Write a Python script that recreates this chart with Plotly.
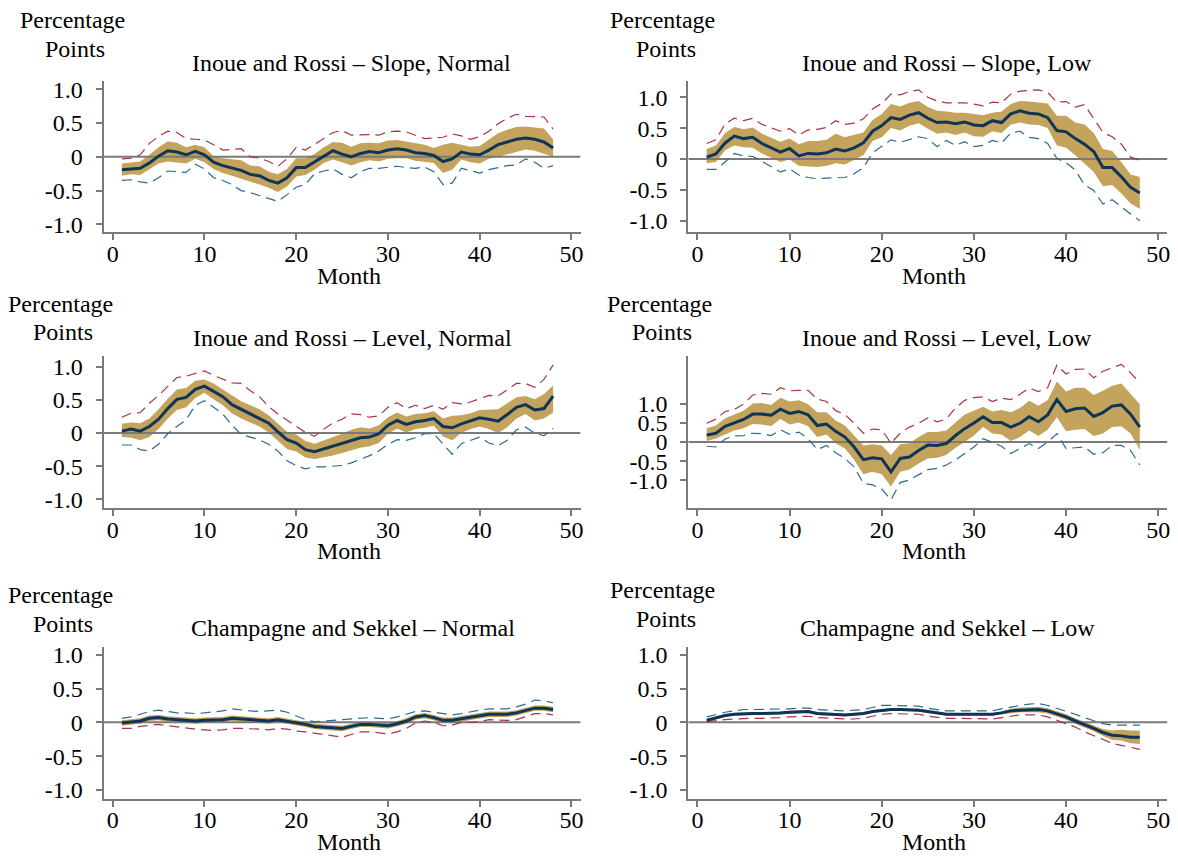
import plotly.graph_objects as go

# ---------------- data ----------------
MONTHS = list(range(1, 49))
X_TICKS = [0, 10, 20, 30, 40, 50]
Y_TICKS = [-1.0, -0.5, 0.0, 0.5, 1.0]
Y_TICK_LABELS = ["-1.0", "-0.5", "0", "0.5", "1.0"]

# Inoue and Rossi - Slope, Normal
sn_irf = [-0.19,-0.18,-0.17,-0.09,0.01,0.09,0.07,0.03,0.08,0.03,-0.08,-0.13,-0.16,-0.20,-0.26,-0.28,-0.35,-0.39,-0.31,-0.16,-0.16,-0.08,0.01,0.09,0.04,0.00,0.05,0.08,0.06,0.10,0.12,0.10,0.06,0.05,0.02,-0.07,-0.03,0.07,0.04,0.03,0.10,0.18,0.22,0.26,0.28,0.26,0.22,0.13]
sn_hi = [-0.10,-0.09,-0.07,0.03,0.14,0.23,0.21,0.14,0.18,0.14,0.01,-0.02,-0.03,-0.05,-0.13,-0.14,-0.22,-0.26,-0.18,-0.02,-0.02,0.04,0.14,0.22,0.21,0.15,0.20,0.21,0.20,0.24,0.25,0.23,0.20,0.18,0.13,0.18,0.21,0.18,0.15,0.16,0.25,0.35,0.40,0.44,0.45,0.43,0.42,0.26]
sn_lo = [-0.28,-0.26,-0.27,-0.19,-0.10,-0.07,-0.08,-0.10,-0.03,-0.08,-0.18,-0.24,-0.28,-0.32,-0.36,-0.41,-0.46,-0.52,-0.44,-0.29,-0.27,-0.19,-0.09,-0.04,-0.08,-0.13,-0.08,-0.05,-0.07,-0.03,-0.02,-0.02,-0.06,-0.07,-0.09,-0.24,-0.19,-0.04,-0.08,-0.10,-0.03,0.00,0.04,0.08,0.11,0.09,0.04,0.00]
sn_red = [-0.03,-0.02,0.03,0.20,0.30,0.38,0.36,0.27,0.26,0.25,0.18,0.10,0.11,0.12,0.00,-0.02,-0.07,-0.14,-0.03,0.14,0.10,0.18,0.27,0.36,0.39,0.32,0.33,0.33,0.32,0.37,0.38,0.37,0.32,0.27,0.28,0.29,0.34,0.31,0.26,0.30,0.38,0.49,0.57,0.63,0.60,0.59,0.59,0.41]
sn_blue = [-0.35,-0.34,-0.37,-0.39,-0.31,-0.21,-0.22,-0.23,-0.11,-0.18,-0.31,-0.35,-0.41,-0.50,-0.53,-0.57,-0.62,-0.66,-0.56,-0.45,-0.41,-0.25,-0.21,-0.18,-0.26,-0.31,-0.22,-0.17,-0.17,-0.15,-0.14,-0.16,-0.17,-0.15,-0.22,-0.41,-0.39,-0.17,-0.20,-0.24,-0.19,-0.16,-0.13,-0.12,-0.03,-0.08,-0.17,-0.13]

# Inoue and Rossi - Slope, Low
sl_irf = [0.03,0.08,0.26,0.37,0.33,0.35,0.25,0.18,0.11,0.17,0.05,0.09,0.08,0.10,0.16,0.13,0.18,0.26,0.45,0.54,0.67,0.64,0.71,0.75,0.66,0.59,0.60,0.57,0.60,0.55,0.54,0.62,0.59,0.73,0.78,0.74,0.73,0.67,0.46,0.44,0.33,0.24,0.12,-0.14,-0.14,-0.29,-0.46,-0.55]
sl_hi = [0.16,0.22,0.42,0.52,0.48,0.51,0.41,0.34,0.28,0.33,0.24,0.29,0.29,0.31,0.41,0.35,0.39,0.43,0.63,0.73,0.89,0.85,0.91,0.94,0.84,0.78,0.77,0.75,0.75,0.73,0.71,0.75,0.77,0.89,0.94,0.93,0.92,0.90,0.70,0.70,0.59,0.56,0.42,0.16,0.13,-0.05,-0.25,-0.29]
sl_lo = [-0.07,-0.05,0.14,0.22,0.19,0.18,0.09,0.02,-0.05,-0.01,-0.11,-0.12,-0.13,-0.11,-0.07,-0.09,-0.02,0.06,0.29,0.35,0.50,0.46,0.54,0.58,0.49,0.41,0.43,0.39,0.43,0.37,0.36,0.45,0.42,0.56,0.59,0.56,0.55,0.50,0.22,0.18,0.06,-0.07,-0.21,-0.44,-0.42,-0.56,-0.72,-0.81]
sl_red = [0.25,0.31,0.57,0.66,0.62,0.66,0.56,0.50,0.45,0.49,0.39,0.47,0.48,0.51,0.62,0.56,0.58,0.65,0.81,0.90,1.05,1.04,1.09,1.12,1.00,0.94,0.91,0.91,0.91,0.89,0.86,0.92,0.91,1.05,1.10,1.11,1.12,1.08,0.92,0.93,0.84,0.88,0.65,0.43,0.36,0.24,0.03,-0.02]
sl_blue = [-0.17,-0.17,-0.05,0.09,0.05,0.04,-0.04,-0.13,-0.21,-0.16,-0.26,-0.30,-0.32,-0.31,-0.30,-0.30,-0.24,-0.14,0.10,0.20,0.31,0.27,0.31,0.36,0.33,0.20,0.30,0.22,0.28,0.20,0.22,0.30,0.26,0.42,0.45,0.35,0.33,0.25,0.01,-0.06,-0.18,-0.42,-0.51,-0.73,-0.66,-0.78,-0.89,-1.00]

# Inoue and Rossi - Level, Normal
ln_irf = [0.03,0.06,0.03,0.10,0.21,0.37,0.51,0.54,0.66,0.71,0.63,0.55,0.43,0.36,0.30,0.23,0.15,0.02,-0.10,-0.15,-0.25,-0.28,-0.24,-0.20,-0.16,-0.11,-0.07,-0.06,-0.01,0.12,0.19,0.13,0.17,0.19,0.22,0.10,0.08,0.14,0.18,0.23,0.21,0.18,0.28,0.39,0.43,0.35,0.37,0.56]
ln_hi = [0.14,0.16,0.15,0.22,0.36,0.52,0.66,0.68,0.79,0.81,0.75,0.66,0.56,0.48,0.42,0.36,0.27,0.14,0.02,-0.02,-0.12,-0.16,-0.11,-0.07,-0.01,0.05,0.09,0.07,0.12,0.24,0.31,0.25,0.29,0.30,0.33,0.22,0.26,0.27,0.30,0.35,0.36,0.36,0.45,0.54,0.56,0.51,0.59,0.72]
ln_lo = [-0.06,-0.07,-0.11,-0.06,0.06,0.22,0.35,0.39,0.53,0.61,0.51,0.42,0.30,0.22,0.16,0.10,0.01,-0.11,-0.24,-0.28,-0.37,-0.39,-0.37,-0.34,-0.30,-0.26,-0.22,-0.20,-0.15,-0.01,0.07,0.01,0.06,0.08,0.11,-0.05,-0.11,0.00,0.06,0.10,0.06,0.00,0.09,0.22,0.29,0.19,0.22,0.31]
ln_red = [0.24,0.30,0.31,0.45,0.57,0.71,0.84,0.86,0.90,0.94,0.87,0.81,0.76,0.75,0.64,0.55,0.40,0.29,0.20,0.10,0.01,-0.05,0.06,0.15,0.21,0.29,0.28,0.24,0.26,0.39,0.46,0.37,0.42,0.37,0.42,0.36,0.46,0.44,0.47,0.52,0.57,0.56,0.66,0.75,0.75,0.69,0.81,1.03]
ln_blue = [-0.18,-0.18,-0.25,-0.27,-0.17,-0.01,0.10,0.20,0.42,0.49,0.39,0.29,0.12,-0.02,-0.06,-0.10,-0.17,-0.27,-0.42,-0.49,-0.54,-0.51,-0.51,-0.50,-0.49,-0.45,-0.40,-0.34,-0.27,-0.17,-0.10,-0.11,-0.07,-0.01,-0.01,-0.16,-0.32,-0.16,-0.11,-0.06,-0.15,-0.19,-0.11,0.05,0.09,0.00,-0.04,0.07]

# Inoue and Rossi - Level, Low
ll_irf = [0.18,0.23,0.41,0.50,0.59,0.73,0.73,0.70,0.86,0.75,0.80,0.71,0.43,0.47,0.28,0.13,-0.13,-0.46,-0.41,-0.44,-0.78,-0.43,-0.39,-0.22,-0.08,-0.09,-0.04,0.17,0.35,0.50,0.66,0.51,0.51,0.39,0.49,0.66,0.53,0.71,1.11,0.80,0.87,0.89,0.67,0.77,0.94,0.97,0.73,0.39]
ll_hi = [0.36,0.43,0.62,0.71,0.82,1.01,1.02,0.97,1.16,1.06,1.09,0.99,0.78,0.78,0.56,0.43,0.17,-0.09,-0.06,-0.09,-0.34,-0.06,-0.03,0.13,0.26,0.26,0.30,0.52,0.72,0.82,0.92,0.80,0.84,0.78,0.89,1.08,0.95,1.09,1.58,1.32,1.42,1.42,1.23,1.34,1.47,1.53,1.25,0.99]
ll_lo = [0.03,0.09,0.20,0.30,0.36,0.47,0.46,0.42,0.60,0.46,0.51,0.41,0.13,0.20,-0.03,-0.17,-0.46,-0.84,-0.78,-0.84,-1.16,-0.78,-0.72,-0.56,-0.43,-0.41,-0.34,-0.15,0.00,0.17,0.39,0.22,0.20,0.03,0.13,0.30,0.16,0.32,0.65,0.28,0.32,0.34,0.16,0.22,0.39,0.41,0.22,-0.20]
ll_red = [0.49,0.60,0.80,0.85,0.99,1.23,1.27,1.25,1.42,1.34,1.35,1.35,1.12,1.06,0.82,0.72,0.49,0.23,0.34,0.32,-0.03,0.23,0.39,0.49,0.63,0.53,0.60,0.89,1.09,1.16,1.18,1.06,1.15,1.11,1.25,1.41,1.32,1.42,2.01,1.78,1.90,1.91,1.68,1.85,1.94,2.03,1.81,1.55]
ll_blue = [-0.11,-0.13,0.08,0.16,0.17,0.23,0.22,0.17,0.32,0.20,0.26,0.09,-0.20,-0.09,-0.28,-0.43,-0.65,-1.08,-1.12,-1.23,-1.51,-1.06,-0.99,-0.86,-0.72,-0.69,-0.60,-0.47,-0.30,-0.13,0.09,0.00,-0.11,-0.30,-0.17,-0.04,-0.17,0.00,0.22,-0.17,-0.15,-0.13,-0.32,-0.28,-0.09,-0.09,-0.22,-0.60]

# Champagne and Sekkel - Normal
cn_irf = [-0.01,0.00,0.02,0.06,0.07,0.05,0.04,0.03,0.02,0.03,0.03,0.04,0.06,0.05,0.04,0.03,0.02,0.04,0.02,-0.01,-0.03,-0.06,-0.07,-0.07,-0.09,-0.06,-0.03,-0.03,-0.04,-0.05,-0.02,0.02,0.08,0.10,0.07,0.03,0.03,0.05,0.07,0.09,0.12,0.12,0.12,0.14,0.17,0.21,0.21,0.19]
cn_hi = [0.03,0.04,0.06,0.10,0.11,0.09,0.08,0.07,0.06,0.07,0.07,0.08,0.10,0.09,0.08,0.07,0.06,0.08,0.06,0.03,0.01,-0.02,-0.03,-0.03,-0.05,-0.02,0.01,0.01,0.00,-0.01,0.02,0.06,0.12,0.14,0.11,0.07,0.07,0.09,0.11,0.13,0.16,0.16,0.16,0.18,0.21,0.25,0.25,0.23]
cn_lo = [-0.05,-0.04,-0.02,0.02,0.03,0.01,0.00,-0.01,-0.02,-0.01,-0.01,0.00,0.02,0.01,0.00,-0.01,-0.02,0.00,-0.02,-0.05,-0.07,-0.10,-0.11,-0.11,-0.13,-0.10,-0.07,-0.07,-0.08,-0.09,-0.06,-0.02,0.04,0.06,0.03,-0.01,-0.01,0.01,0.03,0.05,0.08,0.08,0.08,0.10,0.13,0.17,0.17,0.15]
cn_red = [-0.09,-0.09,-0.06,-0.04,-0.03,-0.05,-0.07,-0.08,-0.10,-0.11,-0.12,-0.11,-0.09,-0.09,-0.09,-0.10,-0.11,-0.09,-0.10,-0.13,-0.14,-0.16,-0.18,-0.20,-0.22,-0.18,-0.14,-0.14,-0.16,-0.17,-0.14,-0.09,-0.01,0.02,0.00,-0.05,-0.04,0.00,0.00,0.01,0.04,0.03,0.03,0.04,0.08,0.13,0.13,0.11]
cn_blue = [0.06,0.08,0.12,0.16,0.18,0.16,0.14,0.14,0.13,0.14,0.15,0.17,0.20,0.18,0.17,0.16,0.17,0.18,0.15,0.09,0.04,0.01,0.02,0.03,0.04,0.05,0.07,0.07,0.06,0.05,0.08,0.12,0.16,0.17,0.15,0.12,0.11,0.13,0.16,0.18,0.20,0.20,0.20,0.23,0.27,0.33,0.32,0.29]

# Champagne and Sekkel - Low
cl_irf = [0.03,0.07,0.10,0.12,0.13,0.13,0.13,0.13,0.14,0.15,0.16,0.16,0.13,0.12,0.12,0.11,0.12,0.13,0.16,0.18,0.19,0.19,0.19,0.18,0.16,0.14,0.12,0.12,0.12,0.12,0.12,0.12,0.14,0.17,0.18,0.19,0.19,0.17,0.13,0.08,0.02,-0.03,-0.09,-0.15,-0.19,-0.20,-0.22,-0.22]
cl_hi = [0.05,0.09,0.12,0.14,0.15,0.15,0.15,0.15,0.16,0.17,0.18,0.18,0.15,0.14,0.14,0.13,0.14,0.15,0.18,0.20,0.21,0.21,0.21,0.20,0.18,0.16,0.14,0.14,0.14,0.14,0.14,0.14,0.16,0.20,0.22,0.23,0.23,0.21,0.17,0.12,0.06,0.01,-0.05,-0.10,-0.12,-0.11,-0.12,-0.12]
cl_lo = [0.01,0.05,0.08,0.10,0.11,0.11,0.11,0.11,0.12,0.13,0.14,0.14,0.11,0.10,0.10,0.09,0.10,0.11,0.14,0.16,0.17,0.17,0.17,0.16,0.14,0.12,0.10,0.10,0.10,0.10,0.10,0.10,0.12,0.14,0.15,0.15,0.15,0.13,0.09,0.04,-0.02,-0.07,-0.13,-0.20,-0.26,-0.27,-0.31,-0.32]
cl_red = [0.01,0.03,0.04,0.05,0.06,0.06,0.06,0.06,0.07,0.08,0.09,0.09,0.07,0.06,0.05,0.05,0.05,0.06,0.09,0.12,0.13,0.13,0.13,0.12,0.09,0.07,0.06,0.06,0.06,0.06,0.05,0.05,0.07,0.09,0.11,0.11,0.11,0.08,0.03,-0.01,-0.07,-0.14,-0.20,-0.26,-0.31,-0.34,-0.37,-0.40]
cl_blue = [0.08,0.12,0.15,0.17,0.19,0.19,0.19,0.19,0.20,0.20,0.21,0.21,0.19,0.18,0.17,0.17,0.18,0.19,0.22,0.25,0.25,0.25,0.25,0.24,0.21,0.19,0.17,0.17,0.17,0.17,0.17,0.17,0.20,0.23,0.25,0.27,0.28,0.25,0.21,0.17,0.12,0.07,0.02,-0.02,-0.04,-0.04,-0.05,-0.04]

# ---------------- style / layout ----------------
W, H = 1178, 864
OFF = 8  # page body margin of the written html
GOLD = "#c4a35d"
NAVY = "#0e3558"
RED = "#a8344b"
BLUE = "#2c6994"
GREY = "#7a7a7a"
FONT = "Liberation Serif"
FS = 24
X_RANGE = [-1, 51]

COL_X = [(103.75, 582.1), (690.0, 1170.4)]
ROW_Y = [(77, 230), (355, 509), (649.3, 802.7)]

panels = [
    dict(title="Inoue and Rossi – Slope, Normal", irf=sn_irf, hi=sn_hi, lo=sn_lo, red=sn_red, blue=sn_blue,
         col=0, row=0, yr=[-1.12, 1.12], pp=(72.3, 75.3, 18), tt=(352.8, 62), mo=(349.8, 277)),
    dict(title="Inoue and Rossi – Slope, Low", irf=sl_irf, hi=sl_hi, lo=sl_lo, red=sl_red, blue=sl_blue,
         col=1, row=0, yr=[-1.19, 1.26], pp=(664.5, 667.7, 18), tt=(949.0, 62), mo=(936.4, 277)),
    dict(title="Inoue and Rossi – Level, Normal", irf=ln_irf, hi=ln_hi, lo=ln_lo, red=ln_red, blue=ln_blue,
         col=0, row=1, yr=[-1.135, 1.165], pp=(60.6, 63.6, 305), tt=(353.3, 340), mo=(349.8, 555)),
    dict(title="Inoue and Rossi – Level, Low", irf=ll_irf, hi=ll_hi, lo=ll_lo, red=ll_red, blue=ll_blue,
         col=1, row=1, yr=[-1.73, 2.25], pp=(660.8, 663.8, 305), tt=(949.6, 340), mo=(936.4, 555)),
    dict(title="Champagne and Sekkel – Normal", irf=cn_irf, hi=cn_hi, lo=cn_lo, red=cn_red, blue=cn_blue,
         col=0, row=2, yr=[-1.127, 1.117], pp=(60.6, 63.6, 600), tt=(353.9, 633), mo=(349.8, 850)),
    dict(title="Champagne and Sekkel – Low", irf=cl_irf, hi=cl_hi, lo=cl_lo, red=cl_red, blue=cl_blue,
         col=1, row=2, yr=[-1.127, 1.117], pp=(664.5, 667.7, 595), tt=(950.3, 633), mo=(936.4, 850)),
]

fig = go.Figure()
annotations = []
layout_axes = {}

def px2paper(x, y):
    return (x - OFF) / W, 1 - (y - OFF) / H

TXT_DY = -3  # visual centre of glyphs vs text box centre

for i, p in enumerate(panels, start=1):
    xa = "x" if i == 1 else f"x{i}"
    ya = "y" if i == 1 else f"y{i}"
    common = dict(xaxis=xa, yaxis=ya, showlegend=False, hoverinfo="skip")
    fig.add_trace(go.Scatter(x=MONTHS, y=p["lo"], mode="lines", line=dict(width=0, color=GOLD), **common))
    fig.add_trace(go.Scatter(x=MONTHS, y=p["hi"], mode="lines", line=dict(width=0, color=GOLD),
                             fill="tonexty", fillcolor=GOLD, **common))
    fig.add_trace(go.Scatter(x=X_RANGE, y=[0, 0], mode="lines", line=dict(width=2, color=GREY), **common))
    fig.add_trace(go.Scatter(x=MONTHS, y=p["red"], mode="lines",
                             line=dict(width=1.2, color=RED, dash="10px,6px"), **common))
    fig.add_trace(go.Scatter(x=MONTHS, y=p["blue"], mode="lines",
                             line=dict(width=1.2, color=BLUE, dash="10px,6px"), **common))
    fig.add_trace(go.Scatter(x=MONTHS, y=p["irf"], mode="lines",
                             line=dict(width=3, color=NAVY), **common))

    x0, x1 = COL_X[p["col"]]
    top, bot = ROW_Y[p["row"]]
    dx0, dy_top = px2paper(x0, top)
    dx1, dy_bot = px2paper(x1, bot)
    xkey = "xaxis" if i == 1 else f"xaxis{i}"
    ykey = "yaxis" if i == 1 else f"yaxis{i}"
    axis_style = dict(showline=True, linecolor=GREY, linewidth=2, ticks="outside", ticklen=6,
                      tickwidth=1.5, tickcolor=GREY, showgrid=False, zeroline=False,
                      tickfont=dict(family=FONT, size=FS, color="black"), fixedrange=True)
    layout_axes[xkey] = dict(domain=[dx0, dx1], range=X_RANGE, anchor=ya,
                             tickvals=X_TICKS, ticklabelstandoff=-7, **axis_style)
    layout_axes[ykey] = dict(domain=[dy_bot, dy_top], range=p["yr"], anchor=xa,
                             tickvals=Y_TICKS, ticktext=Y_TICK_LABELS, ticklabelstandoff=8, **axis_style)

    for (tx, ty), txt in [(p["tt"], p["title"]), (p["mo"], "Month")]:
        ax_, ay_ = px2paper(tx, ty + TXT_DY)
        annotations.append(dict(text=txt, x=ax_, y=ay_, xref="paper", yref="paper", showarrow=False,
                                xanchor="center", yanchor="middle",
                                font=dict(family=FONT, size=FS, color="black")))
    px_a, px_b, py = p["pp"]
    for (tx, ty), txt in [((px_a, py), "Percentage"), ((px_b, py + 29), "Points")]:
        ax_, ay_ = px2paper(tx, ty + TXT_DY)
        annotations.append(dict(text=txt, x=ax_, y=ay_, xref="paper", yref="paper", showarrow=False,
                                xanchor="center", yanchor="middle",
                                font=dict(family=FONT, size=FS, color="black")))

fig.update_layout(width=W, height=H, autosize=False, margin=dict(l=0, r=0, t=0, b=0),
                  paper_bgcolor="white", plot_bgcolor="white", annotations=annotations,
                  **layout_axes)

fig.write_html("out.html")
